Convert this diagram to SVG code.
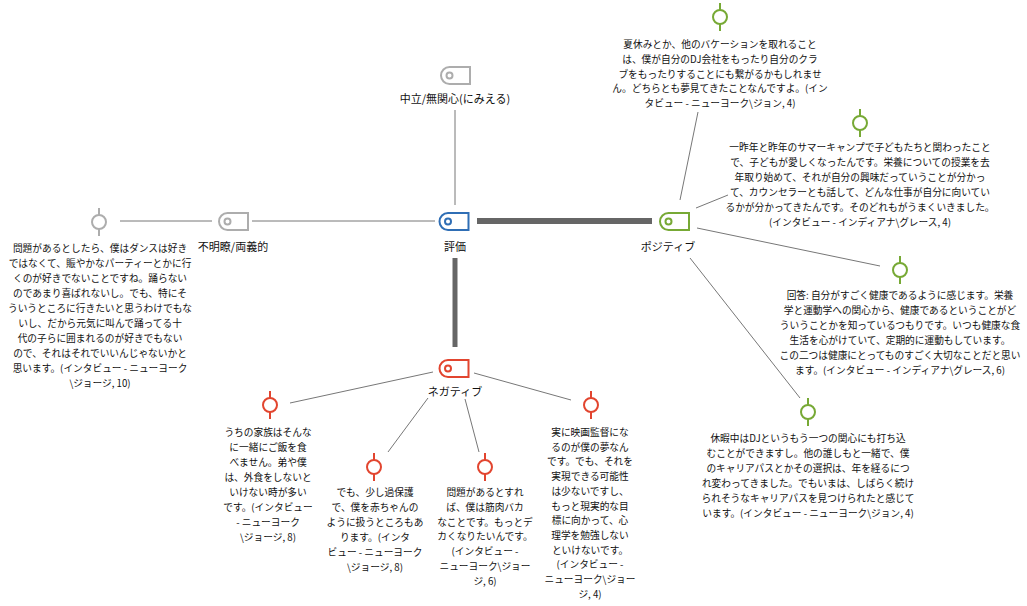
<svg xmlns="http://www.w3.org/2000/svg" width="1027" height="606" viewBox="0 0 1027 606">
<style>
text{font-family:"Noto Sans CJK JP","Noto Sans CJK SC",sans-serif;fill:#111}
.t{font-size:9.7px;text-anchor:middle}
.l{font-size:11px;text-anchor:middle}
.c{stroke:#777;stroke-width:1;fill:none}
.k{stroke:#666;fill:none}
.tag{fill:#fff;stroke-width:2}
.pin{fill:#fff;stroke-width:2}
.g{stroke:#adadad}.b{stroke:#2f6eb5}.gr{stroke:#77a935}.r{stroke:#e2452f}
</style>
<defs>
<g id="tagshape"><path d="M8.5,0 H29 V17 H8.5 A8.5,8.5 0 0 1 8.5,0 Z"/><circle cx="8.5" cy="8.5" r="3"/></g>
<g id="pinshape"><line x1="0" y1="-14" x2="0" y2="14"/><circle cx="0" cy="0" r="7"/></g>
</defs>
<g id="connectors">
<line class="c" x1="455" y1="110" x2="455" y2="205"/>
<line class="c" x1="252" y1="221" x2="435" y2="221"/>
<line class="c" x1="120" y1="221" x2="212" y2="221"/>
<line class="k" stroke-width="6" x1="477" y1="221" x2="652" y2="221"/>
<line class="k" stroke-width="5" x1="455" y1="258" x2="455" y2="347"/>
<line class="c" x1="680" y1="200" x2="698" y2="112"/>
<line class="c" x1="696" y1="208" x2="728" y2="195"/>
<line class="c" x1="697" y1="228" x2="880" y2="266"/>
<line class="c" x1="690" y1="258" x2="800" y2="398"/>
<line class="c" x1="433" y1="372" x2="290" y2="403"/>
<line class="c" x1="428" y1="398" x2="388" y2="452"/>
<line class="c" x1="465" y1="399" x2="479" y2="452"/>
<line class="c" x1="474" y1="373" x2="571" y2="400"/>
</g>
<g id="n-neutral"><use href="#tagshape" x="441" y="67" class="tag g"/><text class="l" x="455" y="103">中立/無関心(にみえる)</text></g>
<g id="n-ambig"><use href="#tagshape" x="219" y="213" class="tag g"/><text class="l" x="233" y="251">不明瞭/両義的</text></g>
<g id="n-eval"><use href="#tagshape" x="439.5" y="213" class="tag b"/><text class="l" x="455" y="251">評価</text></g>
<g id="n-pos"><use href="#tagshape" x="660" y="213" class="tag gr"/><text class="l" x="668" y="251">ポジティブ</text></g>
<g id="n-neg"><use href="#tagshape" x="439.5" y="360" class="tag r"/><text class="l" x="455" y="396">ネガティブ</text></g>

<g id="q-left"><use href="#pinshape" x="99" y="222" class="pin g"/>
<text class="t" x="100" y="252"><tspan x="100">問題があるとしたら、僕はダンスは好き</tspan><tspan x="100" dy="15">ではなくて、賑やかなパーティーとかに行</tspan><tspan x="100" dy="15">くのが好きでないことですね。踊らない</tspan><tspan x="100" dy="15">のであまり喜ばれないし。でも、特にそ</tspan><tspan x="100" dy="15">ういうところに行きたいと思うわけでもな</tspan><tspan x="100" dy="15">いし、だから元気に叫んで踊ってる十</tspan><tspan x="100" dy="15">代の子らに囲まれるのが好きでもない</tspan><tspan x="100" dy="15">ので、それはそれでいいんじゃないかと</tspan><tspan x="100" dy="15">思います。(インタビュー - ニューヨーク</tspan><tspan x="100" dy="15">\ジョージ, 10)</tspan></text></g>

<g id="q-pos1"><use href="#pinshape" x="720" y="17" class="pin gr"/>
<text class="t" x="720" y="48"><tspan x="720">夏休みとか、他のバケーションを取れること</tspan><tspan x="720" dy="14.8">は、僕が自分のDJ会社をもったり自分のクラ</tspan><tspan x="720" dy="14.8">ブをもったりすることにも繋がるかもしれませ</tspan><tspan x="720" dy="14.8">ん。どちらとも夢見てきたことなんですよ。(イン</tspan><tspan x="720" dy="14.8">タビュー - ニューヨーク\ジョン, 4)</tspan></text></g>

<g id="q-pos2"><use href="#pinshape" x="860" y="123" class="pin gr"/>
<text class="t" x="860" y="151"><tspan x="860">一昨年と昨年のサマーキャンプで子どもたちと関わったこと</tspan><tspan x="860" dy="15">で、子どもが愛しくなったんです。栄養についての授業を去</tspan><tspan x="860" dy="15">年取り始めて、それが自分の興味だっていうことが分かっ</tspan><tspan x="860" dy="15">て、カウンセラーとも話して、どんな仕事が自分に向いてい</tspan><tspan x="860" dy="15">るかが分かってきたんです。そのどれもがうまくいきました。</tspan><tspan x="860" dy="15">(インタビュー - インディアナ\グレース, 4)</tspan></text></g>

<g id="q-pos3"><use href="#pinshape" x="900" y="270" class="pin gr"/>
<text class="t" x="900" y="299"><tspan x="900">回答: 自分がすごく健康であるように感じます。栄養</tspan><tspan x="900" dy="15">学と運動学への関心から、健康であるということがど</tspan><tspan x="900" dy="15">ういうことかを知っているつもりです。いつも健康な食</tspan><tspan x="900" dy="15">生活を心がけていて、定期的に運動もしています。</tspan><tspan x="900" dy="15">この二つは健康にとってものすごく大切なことだと思い</tspan><tspan x="900" dy="15">ます。(インタビュー - インディアナ\グレース, 6)</tspan></text></g>

<g id="q-pos4"><use href="#pinshape" x="808" y="412" class="pin gr"/>
<text class="t" x="808" y="442"><tspan x="808">休暇中はDJというもう一つの関心にも打ち込</tspan><tspan x="808" dy="15">むことができますし。他の誰しもと一緒で、僕</tspan><tspan x="808" dy="15">のキャリアパスとかその選択は、年を経るにつ</tspan><tspan x="808" dy="15">れ変わってきました。でもいまは、しばらく続け</tspan><tspan x="808" dy="15">られそうなキャリアパスを見つけられたと感じて</tspan><tspan x="808" dy="15">います。(インタビュー - ニューヨーク\ジョン, 4)</tspan></text></g>

<g id="q-neg1"><use href="#pinshape" x="270" y="405" class="pin r"/>
<text class="t" x="268" y="436"><tspan x="268">うちの家族はそんな</tspan><tspan x="268" dy="15">に一緒にご飯を食</tspan><tspan x="268" dy="15">べません。弟や僕</tspan><tspan x="268" dy="15">は、外食をしないと</tspan><tspan x="268" dy="15">いけない時が多い</tspan><tspan x="268" dy="15">です。(インタビュー</tspan><tspan x="268" dy="15">- ニューヨーク</tspan><tspan x="268" dy="15">\ジョージ, 8)</tspan></text></g>

<g id="q-neg2"><use href="#pinshape" x="374" y="467" class="pin r"/>
<text class="t" x="375" y="496"><tspan x="375">でも、少し過保護</tspan><tspan x="375" dy="15">で、僕を赤ちゃんの</tspan><tspan x="375" dy="15">ように扱うところもあ</tspan><tspan x="375" dy="15">ります。(インタ</tspan><tspan x="375" dy="15">ビュー - ニューヨーク</tspan><tspan x="375" dy="15">\ジョージ, 8)</tspan></text></g>

<g id="q-neg3"><use href="#pinshape" x="485" y="467" class="pin r"/>
<text class="t" x="485" y="496"><tspan x="485">問題があるとすれ</tspan><tspan x="485" dy="14.8">ば、僕は筋肉バカ</tspan><tspan x="485" dy="14.8">なことです。もっとデ</tspan><tspan x="485" dy="14.8">カくなりたいんです。</tspan><tspan x="485" dy="14.8">(インタビュー -</tspan><tspan x="485" dy="14.8">ニューヨーク\ジョー</tspan><tspan x="485" dy="14.8">ジ, 6)</tspan></text></g>

<g id="q-neg4"><use href="#pinshape" x="591" y="405" class="pin r"/>
<text class="t" x="590" y="436"><tspan x="590">実に映画監督にな</tspan><tspan x="590" dy="14.7">るのが僕の夢なん</tspan><tspan x="590" dy="14.7">です。でも、それを</tspan><tspan x="590" dy="14.7">実現できる可能性</tspan><tspan x="590" dy="14.7">は少ないですし、</tspan><tspan x="590" dy="14.7">もっと現実的な目</tspan><tspan x="590" dy="14.7">標に向かって、心</tspan><tspan x="590" dy="14.7">理学を勉強しない</tspan><tspan x="590" dy="14.7">といけないです。</tspan><tspan x="590" dy="14.7">(インタビュー -</tspan><tspan x="590" dy="14.7">ニューヨーク\ジョー</tspan><tspan x="590" dy="14.7">ジ, 4)</tspan></text></g>
</svg>
